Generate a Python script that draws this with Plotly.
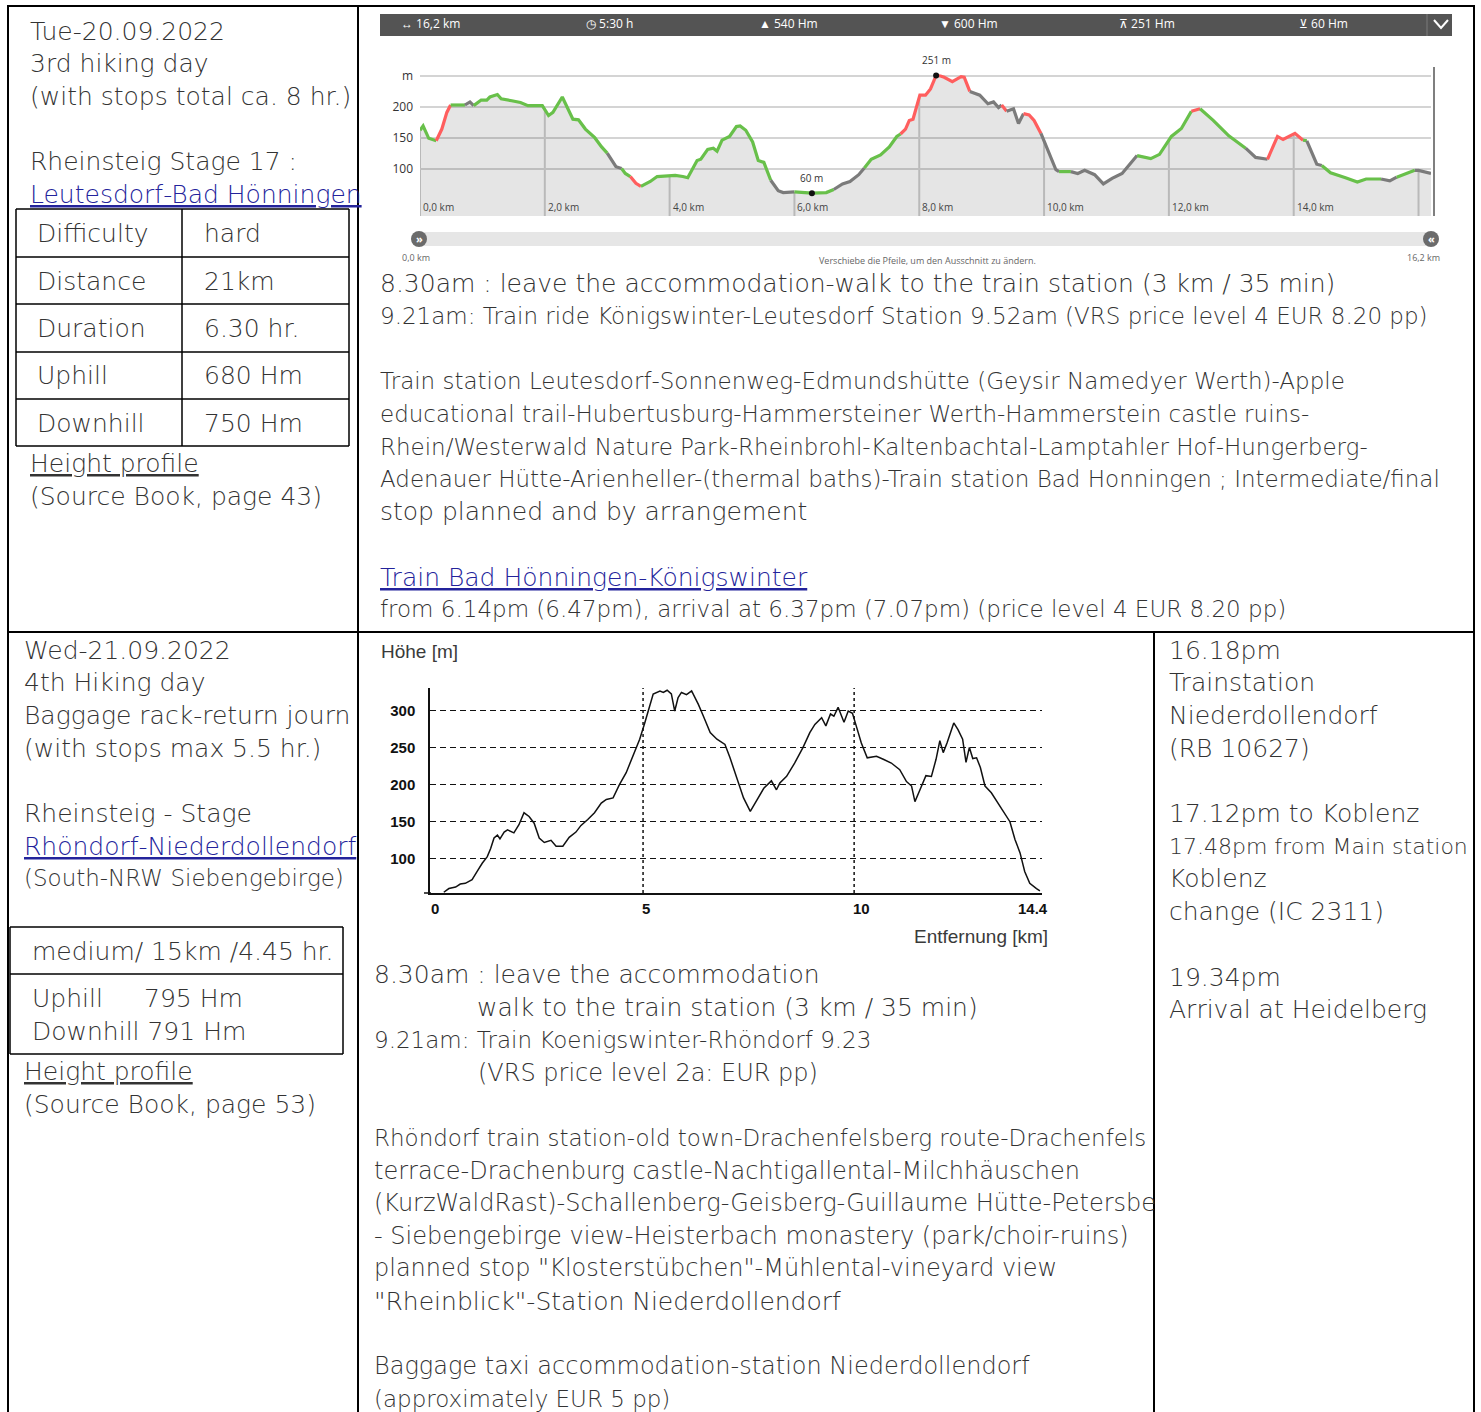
import numpy as np
import plotly.graph_objects as go

W, H = 1481, 1412


def X(px):
    return px / W


def Y(py):
    return 1 - py / H


# ---------------- data: top profile (Leutesdorf - Bad Hönningen) ----------------
top_km = [0.00, 0.05, 0.14, 0.26, 0.35, 0.43, 0.49, 0.72, 0.80, 0.86,
          0.98, 1.07, 1.12, 1.24, 1.30, 1.47, 1.61, 1.73, 1.96, 2.06,
          2.13, 2.28, 2.45, 2.54, 2.65, 2.80, 2.91, 3.00, 3.14, 3.23,
          3.29, 3.37, 3.46, 3.54, 3.69, 3.80, 3.98, 4.09, 4.21, 4.29,
          4.44, 4.50, 4.61, 4.70, 4.76, 4.84, 4.96, 5.07, 5.13, 5.22,
          5.33, 5.42, 5.51, 5.62, 5.74, 5.82, 6.00, 6.28, 6.51, 6.63,
          6.77, 6.89, 7.03, 7.12, 7.23, 7.38, 7.52, 7.64, 7.70, 7.78,
          7.84, 7.90, 8.01, 8.10, 8.18, 8.27, 8.34, 8.40, 8.53, 8.67,
          8.72, 8.81, 8.97, 9.10, 9.19, 9.27, 9.32, 9.40, 9.51, 9.59,
          9.67, 9.76, 9.84, 9.95, 10.03, 10.11, 10.19, 10.24, 10.43, 10.54,
          10.65, 10.81, 10.95, 11.09, 11.25, 11.36, 11.49, 11.71, 11.85, 12.04,
          12.20, 12.36, 12.50, 12.71, 12.96, 13.23, 13.39, 13.58, 13.74, 13.83,
          14.02, 14.15, 14.21, 14.37, 14.45, 14.59, 14.83, 15.02, 15.16, 15.40,
          15.54, 15.65, 15.94, 16.00, 16.20]
top_elev = [162, 169, 149, 145, 164, 191, 203, 203, 208, 202,
            211, 211, 216, 220, 213, 210, 207, 202, 202, 186,
            191, 216, 180, 179, 164, 150, 135, 125, 103, 100,
            92, 87, 76, 71, 79, 87, 88, 89, 87, 85,
            113, 115, 131, 133, 128, 146, 152, 168, 169, 162,
            143, 113, 110, 81, 64, 61, 62, 60, 61, 66,
            75, 79, 90, 101, 115, 122, 135, 152, 156, 164,
            178, 180, 219, 219, 229, 251, 250, 248, 241, 249,
            248, 225, 219, 205, 208, 199, 203, 193, 197, 173,
            189, 187, 178, 157, 138, 117, 98, 95, 95, 92,
            97, 90, 75, 84, 92, 106, 121, 116, 123, 152,
            165, 193, 197, 178, 153, 133, 118, 115, 152, 147,
            157, 146, 145, 107, 105, 93, 85, 78, 83, 83,
            80, 86, 97, 97, 92]
# way class of the segment that starts at each point: p = path, s = steep, r = road
top_class = list("pppsssprrp" "pppppppppp" "ppppppprrp" "pssppppppp" "pppppppppp"
                 "ppprrrpppr" "rrrpppppss" "ssssssssss" "srrrrrsrrr" "sssrrrrprr"
                 "rrrrrrpppp" "psppprrsss" "sprrpppppr" "rprrr")

top_tick_km = [0, 2, 4, 6, 8, 10, 12, 14, 16]
top_tick_text = ["0,0 km", "2,0 km", "4,0 km", "6,0 km", "8,0 km",
                 "10,0 km", "12,0 km", "14,0 km", ""]
top_y_ticks = [100, 150, 200, 250]
top_y_text = ["100", "150", "200", "m"]
header_stats = ["↔ 16,2 km", "◷ 5:30 h", "▲ 540 Hm", "▼ 600 Hm", "⊼ 251 Hm", "⊻ 60 Hm"]

# ---------------- data: bottom profile (Rhöndorf - Niederdollendorf) ----------------
bot_km = [0.28, 0.40, 0.56, 0.67, 0.79, 0.95, 1.07, 1.19, 1.31, 1.39,
          1.47, 1.55, 1.61, 1.71, 1.79, 1.94, 2.06, 2.18, 2.30, 2.42,
          2.54, 2.66, 2.82, 2.94, 3.10, 3.25, 3.41, 3.53, 3.69, 3.85,
          4.01, 4.13, 4.29, 4.44, 4.60, 4.76, 4.92, 5.04, 5.16, 5.24,
          5.40, 5.48, 5.57, 5.67, 5.75, 5.83, 5.91, 6.03, 6.15, 6.31,
          6.43, 6.59, 6.75, 6.94, 7.06, 7.22, 7.38, 7.54, 7.70, 7.86,
          8.04, 8.16, 8.24, 8.40, 8.59, 8.79, 8.95, 9.07, 9.23, 9.33,
          9.44, 9.52, 9.62, 9.76, 9.86, 9.96, 10.06, 10.17, 10.31, 10.53,
          10.69, 10.88, 11.08, 11.24, 11.36, 11.44, 11.56, 11.70, 11.83, 11.94,
          12.03, 12.11, 12.20, 12.36, 12.46, 12.57, 12.65, 12.73, 12.81, 12.90,
          12.99, 13.10, 13.25, 13.45, 13.69, 13.81, 13.93, 14.04, 14.16, 14.32,
          14.40]
bot_elev = [55, 60, 62, 66, 67, 72, 83, 94, 103, 114,
            128, 132, 127, 136, 139, 135, 146, 162, 157, 148,
            128, 122, 125, 117, 117, 129, 136, 145, 153, 162,
            175, 180, 182, 200, 216, 238, 261, 283, 306, 322,
            326, 324, 327, 322, 299, 317, 324, 321, 326, 308,
            292, 270, 261, 254, 236, 209, 182, 164, 180, 195,
            205, 193, 202, 211, 229, 250, 270, 281, 290, 279,
            295, 292, 304, 284, 299, 296, 277, 256, 236, 238,
            234, 229, 220, 204, 198, 177, 193, 212, 211, 234,
            259, 243, 256, 283, 274, 261, 230, 250, 235, 236,
            223, 198, 189, 171, 150, 126, 108, 83, 67, 60,
            57]
bot_x_ticks = [0, 5, 10, 14.4]
bot_x_text = ["0", "5", "10", "14.4"]
bot_y_ticks = [100, 150, 200, 250, 300]

# ---------------- text content ----------------
day3_left = ["Tue-20.09.2022", "3rd hiking day", "(with stops total ca. 8 hr.)", "",
             "Rheinsteig Stage 17 :"]
day3_link = "Leutesdorf-Bad Hönningen"
day3_facts = [("Difficulty", "hard"), ("Distance", "21km"), ("Duration", "6.30 hr."),
              ("Uphill", "680 Hm"), ("Downhill", "750 Hm")]
day3_source = "(Source Book, page 43)"
day3_mid = ["8.30am : leave the accommodation-walk to the train station (3 km / 35 min)",
            "9.21am: Train ride Königswinter-Leutesdorf Station 9.52am (VRS price level 4 EUR 8.20 pp)",
            "",
            "Train station Leutesdorf-Sonnenweg-Edmundshütte (Geysir Namedyer Werth)-Apple",
            "educational trail-Hubertusburg-Hammersteiner Werth-Hammerstein castle ruins-",
            "Rhein/Westerwald Nature Park-Rheinbrohl-Kaltenbachtal-Lamptahler Hof-Hungerberg-",
            "Adenauer Hütte-Arienheller-(thermal baths)-Train station Bad Honningen ; Intermediate/final",
            "stop planned and by arrangement"]
day3_train_link = "Train Bad Hönningen-Königswinter"
day3_train = "from 6.14pm (6.47pm), arrival at 6.37pm (7.07pm) (price level 4 EUR 8.20 pp)"

day4_left = ["Wed-21.09.2022", "4th Hiking day", "Baggage rack-return journ", "(with stops max 5.5 hr.)",
             "", "Rheinsteig - Stage"]
day4_link = "Rhöndorf-Niederdollendorf"
day4_region = "(South-NRW Siebengebirge)"
day4_summary = "medium/ 15km /4.45 hr."
day4_updown = [("Uphill", "795 Hm"), ("Downhill", "791 Hm")]
day4_source = "(Source Book, page 53)"
day4_mid = ["8.30am : leave the accommodation",
            "walk to the train station (3 km / 35 min)",
            "9.21am: Train Koenigswinter-Rhöndorf 9.23",
            "(VRS price level 2a: EUR pp)",
            "",
            "Rhöndorf train station-old town-Drachenfelsberg route-Drachenfels",
            "terrace-Drachenburg castle-Nachtigallental-Milchhäuschen",
            "(KurzWaldRast)-Schallenberg-Geisberg-Guillaume Hütte-Petersberg",
            "- Siebengebirge view-Heisterbach monastery (park/choir-ruins)",
            "planned stop \"Klosterstübchen\"-Mühlental-vineyard view",
            "\"Rheinblick\"-Station Niederdollendorf",
            "",
            "Baggage taxi accommodation-station Niederdollendorf",
            "(approximately EUR 5 pp)"]
day4_right = ["16.18pm", "Trainstation", "Niederdollendorf", "(RB 10627)", "",
              "17.12pm to Koblenz", "17.48pm from Main station", "Koblenz", "change (IC 2311)", "",
              "19.34pm", "Arrival at Heidelberg"]

# ---------------- styling ----------------
BODY = "DejaVu Sans"
BSIZE = 25
TXT = "#333333"
LINK = "#23239b"
LH = 32.7
CLASS_COLORS = {"p": "#68c04a", "s": "#ff5e5e", "r": "#7b7b7b"}
DAY3_MID_SIZES = [25, 23, 25, 23, 23, 23, 23, 25]
DAY4_MID_SIZES = [25, 25, 23, 24, 25, 23, 24, 24, 24, 24, 25, 25, 24, 23]
DAY4_MID_X = [375, 478, 375, 479, 375, 375, 375, 375, 375, 375, 375, 375, 375, 375]
DAY4_RIGHT_SIZES = [25, 25, 25, 25, 25, 25, 22, 25, 25, 25, 25, 25]
TICK_FONT = dict(family="Liberation Sans", size=15, color="#111", weight=700)

fig = go.Figure()
annotations = []
shapes = []


def txt(x, y, s, size=BSIZE, color=TXT, family=BODY, weight=300, anchor="left", pad=3):
    xs = -pad if anchor == "left" else 0
    annotations.append(dict(x=X(x), y=Y(y), xref="paper", yref="paper", text=s,
                            showarrow=False, xanchor=anchor, yanchor="middle", xshift=xs,
                            font=dict(family=family, size=size, color=color, weight=weight)))


def line(x0, y0, x1, y1, color="black", width=2, dash=None):
    shapes.append(dict(type="line", xref="paper", yref="paper", x0=X(x0), y0=Y(y0),
                       x1=X(x1), y1=Y(y1), line=dict(color=color, width=width, dash=dash)))


def rect(x0, y0, x1, y1, fill, layer="below"):
    shapes.append(dict(type="rect", xref="paper", yref="paper", x0=X(x0), y0=Y(y1),
                       x1=X(x1), y1=Y(y0), fillcolor=fill, layer=layer,
                       line=dict(color=fill, width=0)))


# ---------------- top profile traces ----------------
fig.add_trace(go.Scatter(x=top_km, y=top_elev, mode="lines", fill="tozeroy",
                         fillcolor="rgba(0,0,0,0.10)", line=dict(width=0),
                         hoverinfo="skip", showlegend=False, xaxis="x", yaxis="y"))
ymin_top = 23
for k in top_tick_km:
    shapes.append(dict(type="line", xref="x", yref="y", x0=k, x1=k, y0=ymin_top,
                       y1=float(np.interp(k, top_km, top_elev)), layer="below",
                       line=dict(color="#cfcfcf", width=2)))

i = 0
n = len(top_km)
while i < n - 1:
    j = i
    while j + 1 < n - 1 and top_class[j + 1] == top_class[i]:
        j += 1
    fig.add_trace(go.Scatter(x=top_km[i:j + 2], y=top_elev[i:j + 2], mode="lines",
                             line=dict(color=CLASS_COLORS[top_class[i]], width=3.2),
                             hoverinfo="skip", showlegend=False, xaxis="x", yaxis="y"))
    i = j + 1

imax = int(np.argmax(top_elev))
imin = int(np.argmin(top_elev))
fig.add_trace(go.Scatter(x=[top_km[imax], top_km[imin]], y=[top_elev[imax], top_elev[imin]],
                         mode="markers", marker=dict(color="#111", size=6),
                         hoverinfo="skip", showlegend=False, xaxis="x", yaxis="y"))
for idx in (imax, imin):
    annotations.append(dict(x=top_km[idx], y=top_elev[idx], xref="x", yref="y",
                            text=f"{top_elev[idx]} m", showarrow=False, yanchor="bottom",
                            yshift=6, font=dict(family="Open Sans", size=10, color="#333")))
for k, t in zip(top_tick_km, top_tick_text):
    if t:
        annotations.append(dict(x=k, y=Y(207), xref="x", yref="paper", text=t,
                                showarrow=False, xanchor="left", yanchor="middle", xshift=1,
                                font=dict(family="Open Sans", size=10, color="#444")))

# header bar of the top widget
rect(380, 14, 1452, 36, "#545454")
line(1427, 14, 1427, 36, color="#7a7a7a", width=1)
shapes.append(dict(type="path", xref="paper", yref="paper",
                   path=f"M {X(1434)},{Y(20)} L {X(1441)},{Y(28)} L {X(1448)},{Y(20)}",
                   line=dict(color="white", width=2)))
for s, px in zip(header_stats, [402, 587, 760, 940, 1120, 1300]):
    txt(px, 24, s, size=12, color="white", family="Open Sans", weight=400)
line(1434, 67, 1434, 216, color="#555", width=1.5)

# slider under the top widget
rect(420, 232, 1431, 246, "#e6e6e6")
shapes.append(dict(type="circle", xref="paper", yref="paper", x0=X(411), x1=X(427),
                   y0=Y(247), y1=Y(231), fillcolor="#6b6b6b", line=dict(width=0)))
shapes.append(dict(type="circle", xref="paper", yref="paper", x0=X(1423), x1=X(1439),
                   y0=Y(247), y1=Y(231), fillcolor="#6b6b6b", line=dict(width=0)))
txt(419, 239, "»", size=11, color="white", family="Open Sans", weight=700, anchor="center")
txt(1431, 239, "«", size=11, color="white", family="Open Sans", weight=700, anchor="center")
txt(403, 257, "0,0 km", size=9, color="#666", family="Open Sans", weight=400)
txt(1442, 257, "16,2 km", size=9, color="#666", family="Open Sans", weight=400, anchor="right")
txt(927, 261, "Verschiebe die Pfeile, um den Ausschnitt zu ändern.", size=9, color="#666",
    family="Open Sans", weight=400, anchor="center")

# ---------------- bottom profile ----------------
fig.add_trace(go.Scatter(x=bot_km, y=bot_elev, mode="lines", line=dict(color="#111", width=1.5),
                         hoverinfo="skip", showlegend=False, xaxis="x2", yaxis="y2"))
for k in bot_x_ticks[1:3]:
    shapes.append(dict(type="line", xref="x2", yref="y2 domain", x0=k, x1=k, y0=0, y1=1,
                       line=dict(color="#111", width=1.5, dash="3px,3px")))
# x tick labels: left-aligned at the ticks, last one right-aligned at the axis end
for k, t in zip(bot_x_ticks, bot_x_text):
    last = t == bot_x_text[-1]
    annotations.append(dict(x=k, y=Y(909), xref="x2", yref="paper", text=t, showarrow=False,
                            xanchor="right" if last else "left", yanchor="middle",
                            xshift=10 if last else -3, font=TICK_FONT))
line(424, 893, 431, 893, color="#111", width=1.5)
txt(382, 651, "Höhe [m]", size=19, color="#3a3a3a", family="Liberation Sans", weight=400)
txt(1050, 936, "Entfernung [km]", size=19, color="#3a3a3a", family="Liberation Sans",
    weight=400, anchor="right")

# ---------------- table grid ----------------
line(8, 6, 1474, 6)
line(8, 5, 8, 1412)
line(1474, 5, 1474, 1412)
line(8, 632, 1474, 632)
line(358, 5, 358, 1412)
line(1154, 632, 1154, 1412)
for yy in [209, 257, 304, 352, 399, 446]:
    line(16, yy, 349, yy, width=1.5)
for xx in [16, 182, 349]:
    line(xx, 209, xx, 446, width=1.5)
for yy in [927, 974, 1054]:
    line(10, yy, 343, yy, width=1.5)
for xx in [10, 343]:
    line(xx, 927, xx, 1054, width=1.5)

# ---------------- text cells ----------------
for k, s in enumerate(day3_left):
    if s:
        txt(31, 31 + k * LH, s)
txt(31, 194, f"<u>{day3_link}</u>", color=LINK)
for k, (a, b) in enumerate(day3_facts):
    yy = 234 + k * 47.3
    txt(38, yy, a)
    txt(205, yy, b)
txt(31, 463, "<u>Height profile</u>")
txt(31, 496, day3_source)

for k, s in enumerate(day3_mid):
    if s:
        txt(381, 283 + k * 32.7, s, size=DAY3_MID_SIZES[k])
txt(381, 577, f"<u>{day3_train_link}</u>", color=LINK)
txt(381, 609, day3_train, size=23)

for k, s in enumerate(day4_left):
    if s:
        txt(25, 650 + k * LH, s)
txt(25, 846, f"<u>{day4_link}</u>", color=LINK)
txt(25, 878, day4_region, size=23)
txt(33, 951, day4_summary)
txt(33, 998, day4_updown[0][0])
txt(145, 998, day4_updown[0][1])
txt(33, 1031, f"{day4_updown[1][0]} {day4_updown[1][1]}")
txt(25, 1071, "<u>Height profile</u>")
txt(25, 1104, day4_source)

for k, s in enumerate(day4_mid):
    if s:
        txt(DAY4_MID_X[k], 975 + k * 32.6, s, size=DAY4_MID_SIZES[k])

for k, s in enumerate(day4_right):
    if s:
        txt(1170, 650 + k * LH, s, size=DAY4_RIGHT_SIZES[k])

# white mask that clips overflowing cell text at the bottom-middle cell border
annotations.append(dict(x=X(1156), y=Y(1100), xref="paper", yref="paper", text=" ",
                        showarrow=False, xanchor="left", yanchor="top",
                        width=150, height=250, bgcolor="white",
                        borderpad=0, borderwidth=0, font=dict(size=1)))

fig.update_layout(
    width=W, height=H, autosize=False,
    margin=dict(l=0, r=0, t=0, b=0, pad=0, autoexpand=False),
    paper_bgcolor="white", plot_bgcolor="rgba(0,0,0,0)", showlegend=False,
    xaxis=dict(domain=[X(420), X(1431)], range=[0, 16.2], showgrid=False, zeroline=False,
               showticklabels=False, fixedrange=True, automargin=False),
    yaxis=dict(domain=[Y(216), Y(60)], range=[ymin_top, 276], tickvals=top_y_ticks,
               ticktext=top_y_text, showgrid=True, gridcolor="#d4d4d4", gridwidth=2,
               zeroline=False, ticks="", ticklabelstandoff=6, automargin=False,
               tickfont=dict(family="Open Sans", size=12, color="#333"), fixedrange=True),
    xaxis2=dict(domain=[X(430), X(1042)], range=[-0.047, 14.45], anchor="y2",
                tickvals=bot_x_ticks, showticklabels=False, showgrid=False, zeroline=False,
                showline=True, linecolor="#111", linewidth=1.5, ticks="", automargin=False),
    yaxis2=dict(domain=[Y(893), Y(688)], range=[54, 330], anchor="x2",
                tickvals=bot_y_ticks, showgrid=True, gridcolor="#111", gridwidth=1.3,
                griddash="6px,4px", zeroline=False, showline=True, linecolor="#111",
                linewidth=1.5, ticks="", ticklabelstandoff=10, automargin=False,
                tickfont=TICK_FONT),
    shapes=shapes, annotations=annotations,
)

fig.write_html(
    "out.html",
    config={"displayModeBar": False},
    post_script=("document.documentElement.style.margin='0';"
                 "document.body.style.margin='0';document.body.style.overflow='hidden';"
                 "var gd=document.getElementById('{plot_id}');gd.style.overflow='hidden';"),
)
